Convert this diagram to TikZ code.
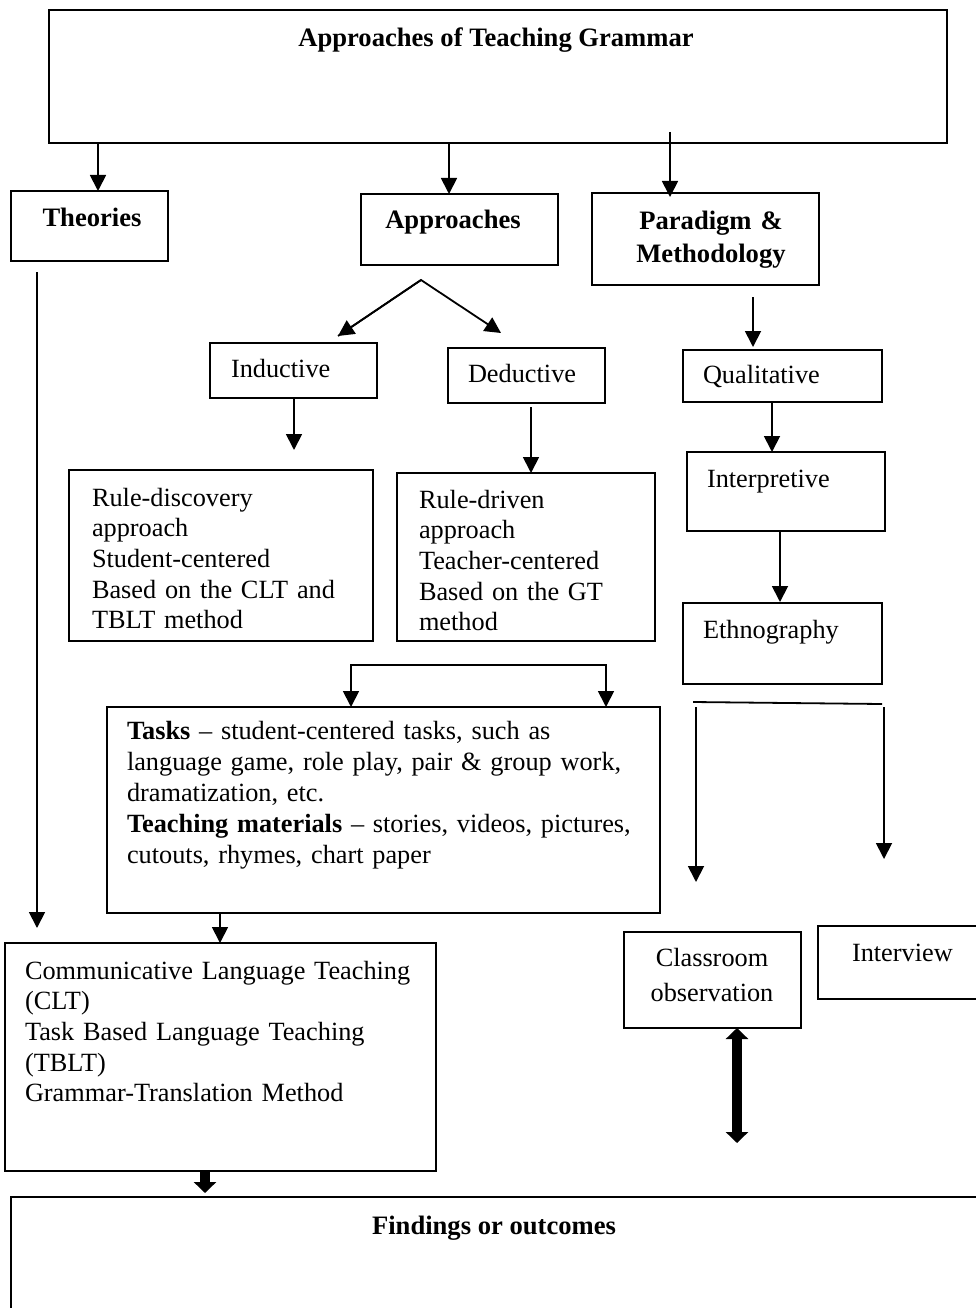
\documentclass[tikz,border=0pt]{standalone}
\usepackage{fontspec}
\setmainfont{Liberation Serif}
\usetikzlibrary{arrows.meta}
\newcommand\mkbox[5]{\node[box, minimum width={#4pt-#2pt}, minimum height={#5pt-#3pt}] (#1) at (#2,#3) {};}
\begin{document}
\begin{tikzpicture}[x=1pt,y=-1pt,
  box/.style={draw, line width=1.8pt, inner sep=0pt, outer sep=0pt, anchor=north west},
  lbl/.style={inner sep=0pt, outer sep=0pt, anchor=base west, font=\fontsize{26.3pt}{30.7pt}\selectfont},
  bflbl/.style={lbl, font=\fontsize{26.6pt}{30.7pt}\selectfont\bfseries},
  multi/.style={text width=#1, align=left},
  arr/.style={line width=1.8pt, -{Triangle[width=16pt,length=16pt]}},
  fatarr/.style={line width=10pt, -{Triangle[width=22pt,length=11pt]}},
  fatdbl/.style={line width=10pt, {Triangle[width=22pt,length=11pt]}-{Triangle[width=22pt,length=11pt]}},
  plain/.style={line width=1.8pt}
]
\useasboundingbox (0,0) rectangle (976,1308);

% boxes
\mkbox{top}{49}{10}{947}{143}
\mkbox{theories}{11}{191}{168}{261}
\mkbox{approaches}{361}{194}{558}{265}
\mkbox{paradigm}{592}{193}{819}{285}
\mkbox{inductive}{210}{343}{377}{398}
\mkbox{deductive}{448}{348}{605}{403}
\mkbox{qualitative}{683}{350}{882}{402}
\mkbox{ruledisc}{69}{470}{373}{641}
\mkbox{ruledriv}{397}{473}{655}{641}
\mkbox{interp}{687}{452}{885}{531}
\mkbox{ethno}{683}{603}{882}{684}
\mkbox{tasks}{107}{707}{660}{913}
\mkbox{clt}{5}{943}{436}{1171}
\mkbox{classroom}{624}{932}{801}{1028}
\mkbox{interview}{818}{926}{990}{999}
\mkbox{findings}{11}{1197}{990}{1320}

% texts
\node[bflbl, anchor=base] (ttop) at (496,47) {Approaches of Teaching Grammar};
\node[bflbl, anchor=base] (ttheories) at (92,226) {Theories};
\node[bflbl, anchor=base] (tapproaches) at (453,228) {Approaches};
\node[bflbl, anchor=base, text width=250pt, align=center, font=\fontsize{26.6pt}{33pt}\selectfont\bfseries] (tparadigm) at (711,229) {Paradigm \&\\Methodology};
\node[lbl] (tinductive) at (231,377) {Inductive};
\node[lbl] (tdeductive) at (468,382) {Deductive};
\node[lbl] (tqualitative) at (703,383) {Qualitative};
\node[lbl] (tinterp) at (707,487) {Interpretive};
\node[lbl] (tethno) at (703,638) {Ethnography};
\node[lbl, multi=280pt] (truledisc) at (92,506) {Rule-discovery\\approach\\Student-centered\\Based on the CLT and\\TBLT method};
\node[lbl, multi=240pt] (truledriv) at (419,508) {Rule-driven\\approach\\Teacher-centered\\Based on the GT\\method};
\node[lbl, multi=530pt, font=\fontsize{26.3pt}{31pt}\selectfont] (ttasks) at (127,739) {\textbf{Tasks} -- student-centered tasks, such as\\language game, role play, pair \& group work,\\dramatization, etc.\\\textbf{Teaching materials} -- stories, videos, pictures,\\cutouts, rhymes, chart paper};
\node[lbl, multi=410pt] (tclt) at (25,979) {Communicative Language Teaching\\(CLT)\\Task Based Language Teaching\\(TBLT)\\Grammar-Translation Method};
\node[lbl, anchor=base, text width=170pt, align=center, font=\fontsize{26.3pt}{35pt}\selectfont] (tclass) at (712,966) {Classroom\\observation};
\node[lbl] (tinterview) at (852,961) {Interview};
\node[bflbl, anchor=base] (tfindings) at (494,1234) {Findings or outcomes};

% connectors
\draw[arr] (top.south -| 98,0) -- (theories.north -| 98,0);
\draw[arr] (top.south -| 449,0) -- (approaches.north -| 449,0);
\coordinate (pstart) at (670,132);
\draw[arr] (pstart) -- ([yshift=-4pt]paradigm.north -| 670,0);

\coordinate (thS) at (37,272);
\coordinate (thE) at (37,928);
\draw[arr] (thS) -- (thE);

\coordinate (apex) at (421,280);
\coordinate (indA) at (338,336);
\coordinate (dedA) at (501,333);
\draw[arr, line join=miter] (indA) -- (apex) -- (dedA);
\draw[arr] (apex) -- (indA);

\coordinate (ruledA) at (294,450);
\draw[arr] (inductive.south -| 294,0) -- (ruledA);
\coordinate (deducS) at (531,407);
\draw[arr] (deducS) -- (ruledriv.north -| 531,0);

\coordinate (parS) at (753,297);
\coordinate (qualA) at (753,347);
\draw[arr] (parS) -- (qualA);
\draw[arr] (qualitative.south -| 772,0) -- (interp.north -| 772,0);
\draw[arr] (interp.south -| 780,0) -- ([yshift=1pt]ethno.north -| 780,0);

\coordinate (brL) at (351,665);
\coordinate (brR) at (606,665);
\draw[plain, line cap=rect] (brL) -- (brR);
\draw[arr] (brL) -- (tasks.north -| brL);
\draw[arr] (brR) -- (tasks.north -| brR);

\draw[arr] (tasks.south -| 220,0) -- (clt.north -| 220,0);

\coordinate (ebL) at (693,702);
\coordinate (ebR) at (882,704);
\draw[plain] (ebL) -- (ebR);
\coordinate (clsS) at (696,707);
\coordinate (clsE) at (696,882);
\coordinate (intS) at (884,707);
\coordinate (intE) at (884,859);
\draw[arr] (clsS) -- (clsE);
\draw[arr] (intS) -- (intE);

\coordinate (dblE) at (737,1143);
\draw[fatdbl] (classroom.south -| dblE) -- (dblE);
\coordinate (findA) at (205,1193);
\draw[fatarr] (clt.south -| findA) -- (findA);
\end{tikzpicture}
\end{document}
